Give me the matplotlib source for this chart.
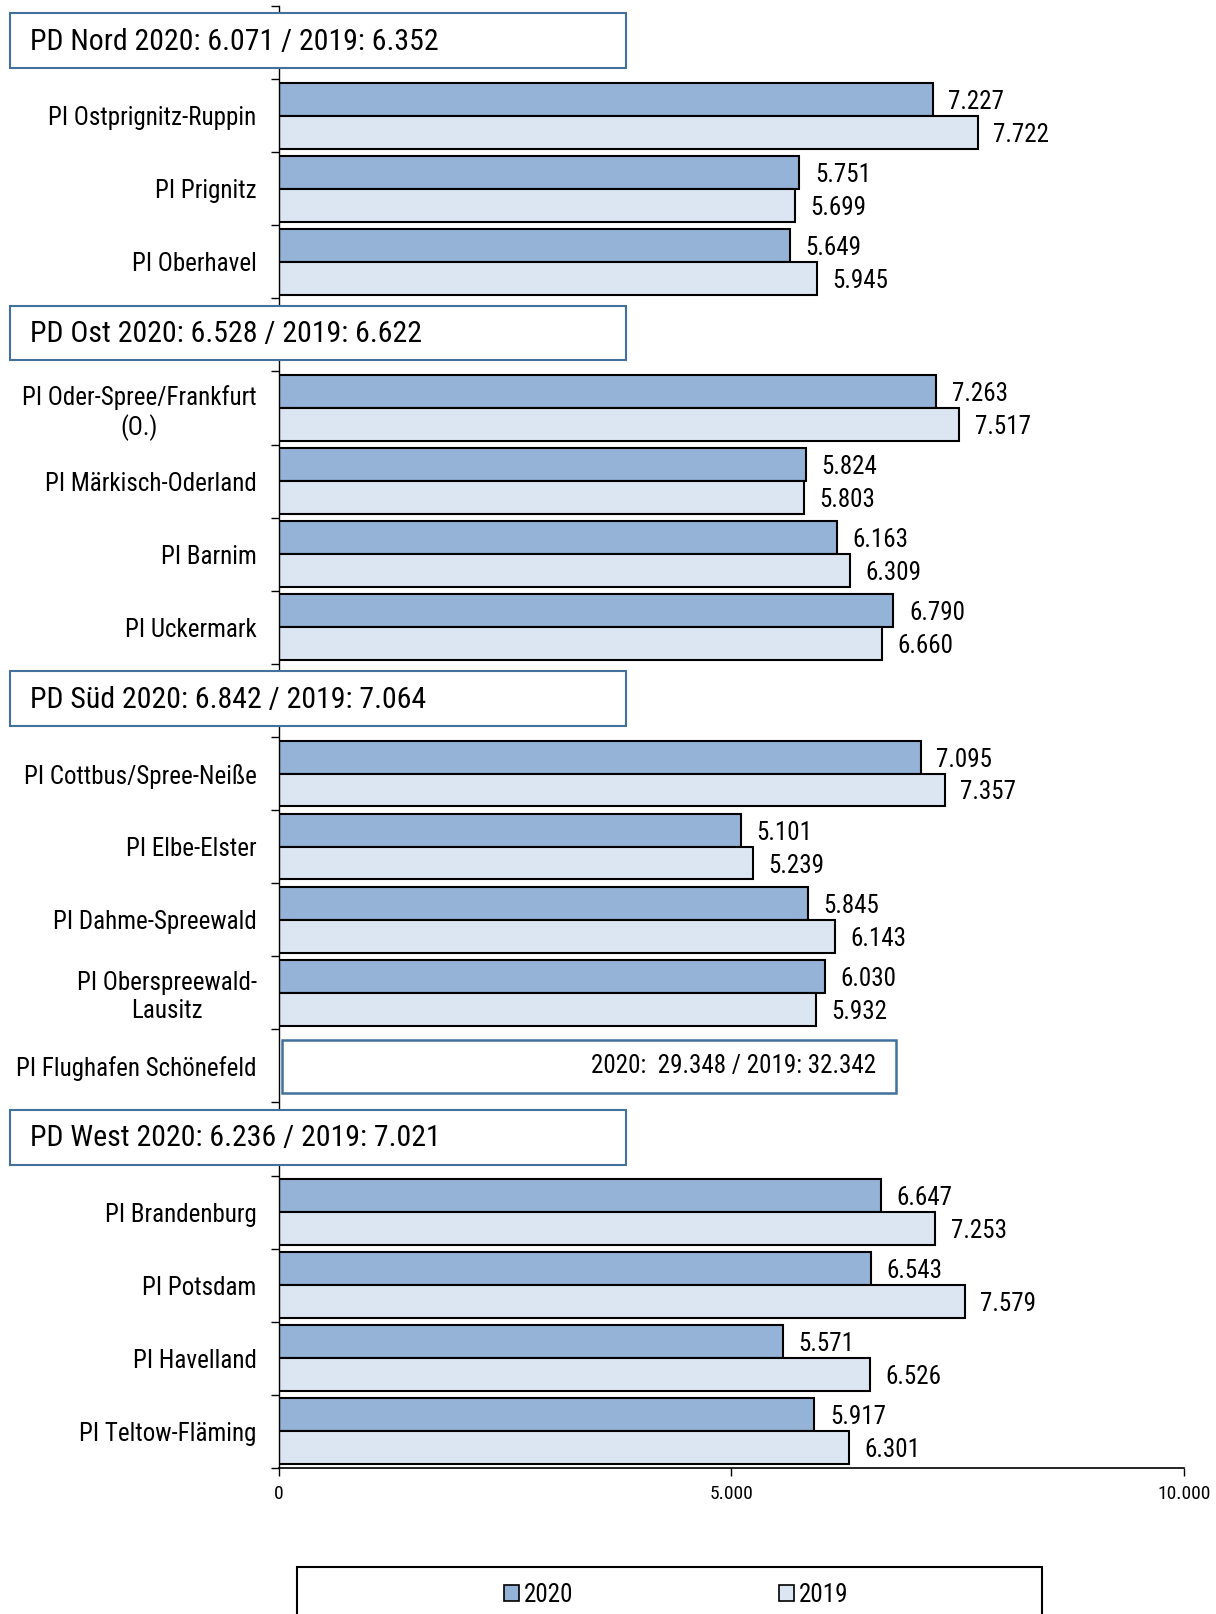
import matplotlib
matplotlib.use("Agg")
import matplotlib.pyplot as plt
import matplotlib.patches as mpatches
from matplotlib.transforms import blended_transform_factory
from matplotlib.ticker import FixedLocator, FuncFormatter

plt.rcParams["font.family"] = ["Arial Narrow", "Roboto Condensed", "Archivo Narrow", "DejaVu Sans"]

# slot layout top -> bottom; headers are None
labels = [
    None,
    "PI Ostprignitz-Ruppin", "PI Prignitz", "PI Oberhavel",
    None,
    "PI Oder-Spree/Frankfurt\n(O.)", "PI Märkisch-Oderland", "PI Barnim", "PI Uckermark",
    None,
    "PI Cottbus/Spree-Neiße", "PI Elbe-Elster", "PI Dahme-Spreewald",
    "PI Oberspreewald-\nLausitz", "PI Flughafen Schönefeld",
    None,
    "PI Brandenburg", "PI Potsdam", "PI Havelland", "PI Teltow-Fläming",
]
values_2020 = [None, 7227, 5751, 5649, None, 7263, 5824, 6163, 6790, None,
               7095, 5101, 5845, 6030, None, None, 6647, 6543, 5571, 5917]
values_2019 = [None, 7722, 5699, 5945, None, 7517, 5803, 6309, 6660, None,
               7357, 5239, 6143, 5932, None, None, 7253, 7579, 6526, 6301]
headers = {
    0: "PD Nord 2020: 6.071 / 2019: 6.352",
    4: "PD Ost 2020: 6.528 / 2019: 6.622",
    9: "PD Süd 2020: 6.842 / 2019: 7.064",
    15: "PD West 2020: 6.236 / 2019: 7.021",
}
flughafen_idx = 14
flughafen_text = "2020:  29.348 / 2019: 32.342"
flughafen_box_end = 6820

c2020 = "#95B3D7"
c2019 = "#DCE6F2"
box_edge = "#41719C"


def de_fmt(v):
    return f"{v:,.0f}".replace(",", ".")


fig = plt.figure(figsize=(12.16, 16.14), dpi=100)
ax = fig.add_axes([0.2294, 0.0905, 0.7443, 0.9058])

h = 0.45
for i, (v20, v19) in enumerate(zip(values_2020, values_2019)):
    if v20 is None:
        continue
    ax.barh(i - h / 2, v20, height=h, color=c2020, edgecolor="black", linewidth=1.5)
    ax.barh(i + h / 2, v19, height=h, color=c2019, edgecolor="black", linewidth=1.5)
    ax.text(v20 + 170, i - h / 2, de_fmt(v20), va="center_baseline", ha="left", fontsize=18)
    ax.text(v19 + 170, i + h / 2, de_fmt(v19), va="center_baseline", ha="left", fontsize=18)

ax.set_xlim(0, 10000)
ax.set_ylim(len(labels) - 0.5, -0.5)

ax.set_yticks(range(len(labels)))
ax.set_yticklabels([l or "" for l in labels], fontsize=18, multialignment="center")
ax.yaxis.set_minor_locator(FixedLocator([i - 0.5 for i in range(len(labels) + 1)]))
ax.tick_params(axis="y", which="major", length=0, pad=16)
ax.tick_params(axis="y", which="minor", length=6, width=1, color="black")

ax.set_xticks([0, 5000, 10000])
ax.xaxis.set_major_formatter(FuncFormatter(lambda v, p: de_fmt(v)))
ax.tick_params(axis="x", length=6, width=1, labelsize=14, pad=6)

for s in ["top", "right"]:
    ax.spines[s].set_visible(False)
ax.spines["left"].set_linewidth(1)
ax.spines["bottom"].set_linewidth(1.2)

# header boxes (x in figure coords, y in data coords)
tr = blended_transform_factory(fig.transFigure, ax.transData)
for idx, txt in headers.items():
    ax.add_patch(mpatches.Rectangle((0.008, idx - 0.4), 0.507, 0.75, transform=tr,
                                    facecolor="white", edgecolor=box_edge,
                                    linewidth=1.5, clip_on=False, zorder=5))
    ax.text(0.0247, idx - 0.01, txt, transform=tr, fontsize=21.5, va="center",
            ha="left", zorder=6, clip_on=False)

# Flughafen box
ax.add_patch(mpatches.Rectangle((30, flughafen_idx - 0.36), flughafen_box_end - 30, 0.73,
                                facecolor="white", edgecolor=box_edge, linewidth=1.8, zorder=4))
ax.text(flughafen_box_end - 220, flughafen_idx, flughafen_text, fontsize=18,
        va="center", ha="right", zorder=6)

# legend
fig.add_artist(mpatches.Rectangle((0.244, -0.02), 0.613, 0.049, transform=fig.transFigure,
                                  facecolor="white", edgecolor="black", linewidth=1.5))
handles = [mpatches.Patch(facecolor=c2020, edgecolor="black", linewidth=1.2, label="2020"),
           mpatches.Patch(facecolor=c2019, edgecolor="black", linewidth=1.2, label="2019")]
fig.legend(handles=handles, loc="center", bbox_to_anchor=(0.556, 0.0118), ncol=2,
           frameon=False, fontsize=18, handlelength=0.6, handleheight=0.6,
           handletextpad=0.2, columnspacing=8.2)

fig.savefig("out.png", dpi=100)
